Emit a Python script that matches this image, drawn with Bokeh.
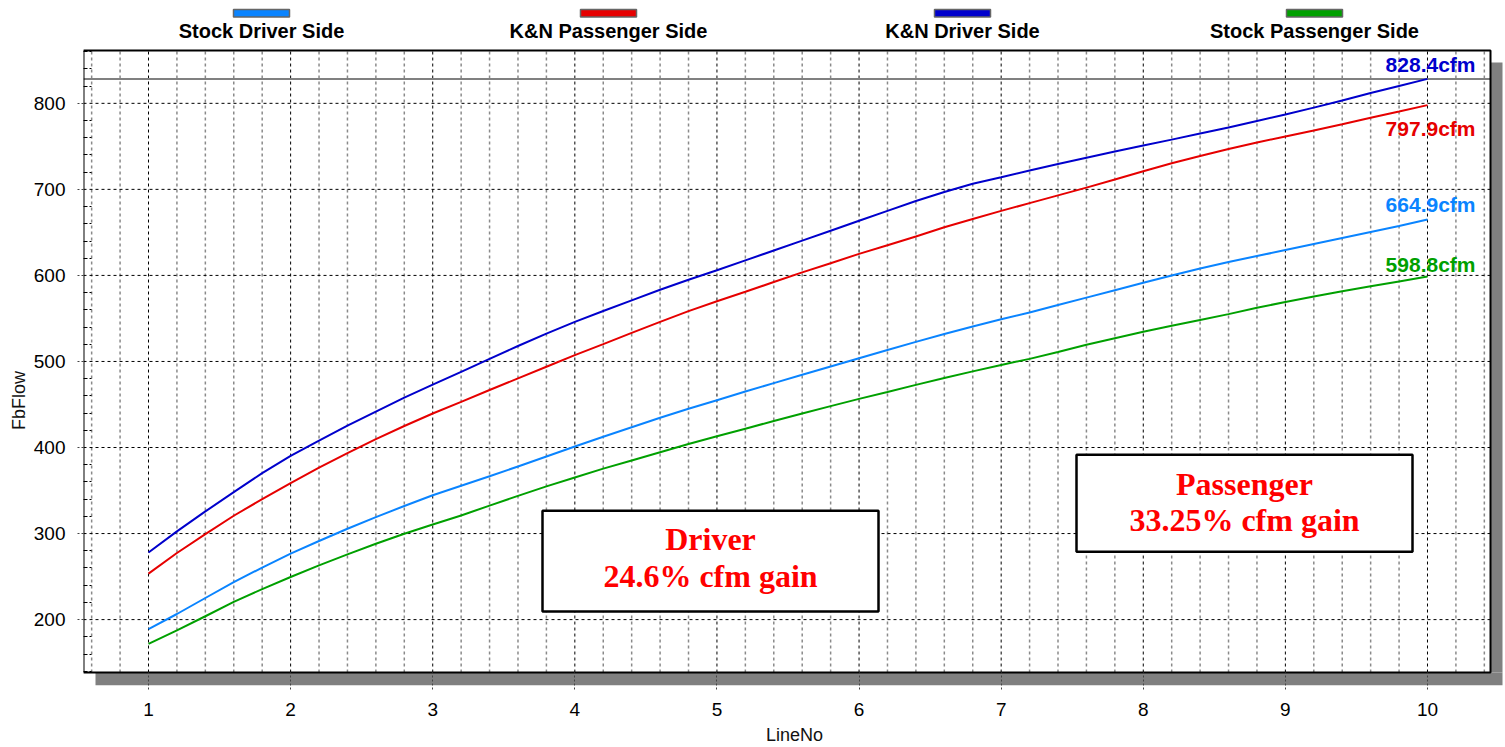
from bokeh.plotting import figure
from bokeh.models import Range1d, FixedTicker, Label
from bokeh.embed import file_html
from bokeh.resources import INLINE

# ---------------- data ----------------
line_no = [1.0, 1.2, 1.4, 1.6, 1.8, 2.0, 2.2, 2.4, 2.6, 2.8,
           3.0, 3.2, 3.4, 3.6, 3.8, 4.0, 4.2, 4.4, 4.6, 4.8,
           5.0, 5.2, 5.4, 5.6, 5.8, 6.0, 6.2, 6.4, 6.6, 6.8,
           7.0, 7.2, 7.4, 7.6, 7.8, 8.0, 8.2, 8.4, 8.6, 8.8,
           9.0, 9.2, 9.4, 9.6, 9.8, 10.0]

stock_driver = [189.0, 206.5, 225.1, 243.5, 260.5, 276.6, 291.3, 305.6, 319.1, 332.0,
                344.5, 355.5, 366.6, 378.0, 389.6, 401.2, 412.5, 423.5, 434.5, 445.0,
                455.0, 465.0, 474.8, 484.6, 494.2, 503.8, 513.3, 522.8, 531.9, 540.6,
                549.0, 557.0, 565.6, 574.2, 582.8, 591.5, 600.0, 608.0, 615.5, 622.5,
                629.5, 636.5, 643.5, 650.5, 657.5, 664.9]

kn_passenger = [253.4, 277.4, 299.4, 320.7, 340.0, 358.6, 376.5, 393.5, 409.7, 425.0,
                439.5, 453.0, 466.8, 480.3, 493.8, 507.3, 520.1, 533.2, 546.0, 558.5,
                570.0, 581.0, 592.3, 603.5, 614.2, 625.0, 635.0, 645.3, 656.0, 665.5,
                675.0, 684.0, 693.0, 702.0, 711.5, 721.0, 730.3, 738.8, 747.0, 754.5,
                761.5, 768.5, 775.8, 783.3, 790.5, 797.9]

kn_driver = [278.0, 302.5, 325.7, 348.2, 370.2, 390.3, 408.1, 425.5, 441.8, 458.0,
             473.0, 488.0, 503.0, 518.0, 532.4, 546.0, 558.7, 571.0, 583.4, 595.0,
             606.0, 617.5, 629.0, 640.4, 651.9, 663.5, 675.0, 686.5, 697.0, 706.5,
             714.0, 722.0, 729.5, 736.7, 744.0, 751.0, 757.8, 765.0, 772.0, 779.5,
             787.0, 795.0, 803.3, 812.0, 820.2, 828.4]

stock_passenger = [171.8, 187.5, 203.9, 220.5, 235.5, 249.5, 263.0, 275.8, 288.2, 299.8,
                   310.5, 321.0, 332.5, 343.8, 354.8, 365.2, 375.5, 385.0, 394.5, 404.0,
                   413.0, 421.9, 430.8, 439.6, 448.1, 456.5, 464.5, 472.8, 480.8, 488.5,
                   496.0, 503.0, 511.0, 519.5, 527.0, 534.5, 541.5, 548.3, 555.0, 562.5,
                   569.0, 575.5, 581.5, 587.4, 593.0, 598.8]

series_names = ["Stock Driver Side", "K&N Passenger Side", "K&N Driver Side", "Stock Passenger Side"]
series_values = [stock_driver, kn_passenger, kn_driver, stock_passenger]
end_labels = ["664.9cfm", "797.9cfm", "828.4cfm", "598.8cfm"]
max_flow = 828.4

x_ticks = [1, 2, 3, 4, 5, 6, 7, 8, 9, 10]
y_ticks = [200, 300, 400, 500, 600, 700, 800]

box_texts = [["Driver", "24.6% cfm gain"], ["Passenger", "33.25% cfm gain"]]

# ---------------- styles / layout (screen pixels) ----------------
colors = ["#0A84FF", "#E60000", "#0000CC", "#00A000"]
SANS = "Liberation Sans"
SERIF = "Liberation Serif"

W, H = 1505, 747
FL, FT, FR, FB = 83, 0, 1505, 686          # bokeh frame
VL, VT, VR, VB = 83, 50, 1490, 673          # visible plot box
PX_X = 142.11                                # px per LineNo unit
PX_Y = 0.8617                                # px per flow unit
X_AT_FL = 0.5426
Y_AT_FB = 200 - (FB - 620) / PX_Y

X0 = X_AT_FL
X1 = X_AT_FL + (FR - FL) / PX_X
Y0 = Y_AT_FB
Y1 = Y_AT_FB + (FB - FT) / PX_Y


def dx(px):
    return X0 + (px - FL) / PX_X


def dy(py):
    return Y0 + (FB - py) / PX_Y


p = figure(width=W, height=H, x_range=Range1d(X0, X1), y_range=Range1d(Y0, Y1),
           output_backend="svg", toolbar_location=None,
           min_border_left=FL, min_border_right=W - FR,
           min_border_top=FT, min_border_bottom=H - FB)
p.background_fill_color = "white"
p.border_fill_color = "white"
p.outline_line_color = None
p.xgrid.visible = False
p.ygrid.visible = False

vx0, vx1, vy0, vy1 = dx(VL), dx(VR), dy(VB), dy(VT)

x_minor = [round(0.6 + 0.2 * i, 1) for i in range(50)
           if abs((0.6 + 0.2 * i) - round(0.6 + 0.2 * i)) > 1e-6]
y_minor = [v for v in range(140, 861, 20) if v % 100 != 0]

p.xaxis.ticker = FixedTicker(ticks=x_ticks, minor_ticks=[])
p.yaxis.ticker = FixedTicker(ticks=y_ticks, minor_ticks=y_minor)

for ax in (p.xaxis[0], p.yaxis[0]):
    ax.axis_line_color = None
    ax.major_label_text_font = SANS
    ax.major_label_text_font_size = "19px"
    ax.major_label_text_color = "black"
    ax.major_tick_line_color = "#444444"
    ax.major_tick_line_dash = "2 2"
    ax.axis_label_text_font = SANS
    ax.axis_label_text_font_size = "18px"
    ax.axis_label_text_font_style = "normal"
    ax.axis_label_text_color = "#111111"

xa = p.xaxis[0]
xa.major_tick_in = FB - VB
xa.major_tick_out = 4
xa.minor_tick_in = 0
xa.minor_tick_out = 0
xa.major_label_standoff = 13
xa.axis_label = "LineNo"
xa.axis_label_standoff = 6

ya = p.yaxis[0]
ya.major_tick_in = 0
ya.major_tick_out = 6
ya.minor_tick_in = 8
ya.minor_tick_out = 0
ya.minor_tick_line_color = "black"
ya.minor_tick_line_dash = "4 2"
ya.major_label_standoff = 12
ya.axis_label = "FbFlow" + "\u00a0" * 23
ya.axis_label_standoff = 2

# shadow of the plot box
p.quad(left=[dx(95)], right=[dx(1502)], top=[dy(VB)], bottom=[dy(686)],
       fill_color="#808080", line_color=None)
p.quad(left=[dx(VR)], right=[dx(1502)], top=[dy(62)], bottom=[dy(VB)],
       fill_color="#808080", line_color=None)

# grid lines inside the plot box
p.segment(x0=x_minor, y0=[vy0] * len(x_minor), x1=x_minor, y1=[vy1] * len(x_minor),
          line_color="#8a8a8a", line_dash="3 3", line_width=1.5)
p.segment(x0=x_ticks, y0=[vy0] * len(x_ticks), x1=x_ticks, y1=[vy1] * len(x_ticks),
          line_color="black", line_dash="3 3", line_width=1)
p.segment(x0=[vx0] * len(y_ticks), y0=y_ticks, x1=[vx1] * len(y_ticks), y1=y_ticks,
          line_color="black", line_dash="3 3", line_width=1)

# max flow line
p.segment(x0=[vx0], y0=[max_flow], x1=[vx1], y1=[max_flow], line_color="#808080", line_width=2)

# curves
for vals, c in zip(series_values, colors):
    p.line(line_no, vals, line_color=c, line_width=2)

# plot box border
p.quad(left=[vx0], right=[vx1], top=[vy1], bottom=[vy0], fill_color=None,
       line_color="black", line_width=2)

# end labels (baseline positions in screen px)
end_baselines = [204, 128, 64, 264]
for txt, c, yb in zip(end_labels, colors, end_baselines):
    p.add_layout(Label(x=dx(1475), y=dy(yb), text=txt, text_align="right", text_baseline="alphabetic",
                       text_font=SANS, text_font_size="21px", text_font_style="bold", text_color=c))

# legend on top
legend_centers = [261, 608, 962, 1314]
for name, c, cx in zip(series_names, colors, legend_centers):
    p.quad(left=[dx(cx - 28)], right=[dx(cx + 28)], top=[dy(9)], bottom=[dy(16.5)],
           fill_color=c, line_color="#666666", line_width=1.5)
    p.add_layout(Label(x=dx(cx), y=dy(31), text=name, text_align="center", text_baseline="alphabetic",
                       text_font=SANS, text_font_size="20px", text_font_style="bold", text_color="black"))

# annotation boxes
boxes = [(542, 878, 511, 612), (1076, 1412, 455, 552)]
box_baselines = [(539, 576), (484, 520)]
for (l, r, t, b), lines, bls in zip(boxes, box_texts, box_baselines):
    p.quad(left=[dx(l)], right=[dx(r)], top=[dy(t)], bottom=[dy(b)],
           fill_color="white", line_color="black", line_width=2.5)
    for txt, yb in zip(lines, bls):
        p.add_layout(Label(x=dx((l + r) / 2), y=dy(yb), text=txt, text_align="center",
                           text_baseline="alphabetic", text_font=SERIF, text_font_size="32px",
                           text_font_style="bold", text_color="#FF0000"))

open("out.html", "w").write(file_html(p, INLINE))
